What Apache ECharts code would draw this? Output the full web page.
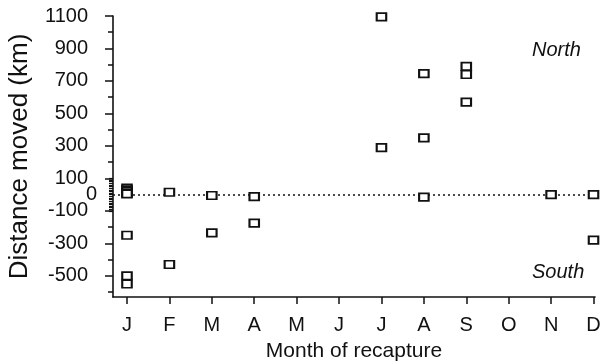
<!DOCTYPE html>
<html>
<head>
<meta charset="utf-8">
<script src="https://cdn.jsdelivr.net/npm/echarts@6/dist/echarts.min.js"></script>
<style>html,body{margin:0;padding:0;background:#fff;}#chart{width:602px;height:362px;}</style>
</head>
<body>
<div id="chart"></div>
<script>
// Month of recapture (1 = J ... 12 = D)
var monthLetters = ['J','F','M','A','M','J','J','A','S','O','N','D'];
var monthTicks = [1,2,3,4,5,6,7,8,9,10,11,12];
// Recaptures: month and distance moved (km)
var recapMonth  = [1, 1, 1, 1, 1, 1, 1, 1,   2, 2,    3, 3,    4, 4,    7, 7,   8, 8, 8,   9, 9, 9,   11,  12, 12];
var distanceKm  = [40, 30, 20, 10, 5, -250, -500, -550,  15, -430,  -5, -235,  -12, -175,  1095, 290,  745, 350, -15,  790, 740, 570,  0,  0, -280];
// Axis tick values
var yLabelTicks = [-500, -300, -100, 100, 300, 500, 700, 900, 1100];
var yMinorTicks = [-600, -400, -200, 200, 400, 600, 800, 1000];
var yFineTicks = [];
for (var t = -100; t <= 100; t += 10) yFineTicks.push(t);

var points = recapMonth.map(function (m, i) { return [m, distanceKm[i]]; });

var FONT = 'Liberation Sans, Arial, sans-serif';
var INK = '#111';
var Y_MIN = -630, Y_MAX = 1100;

function baseY(extra) {
  var o = {
    type: 'value', position: 'left', min: Y_MIN, max: Y_MAX, offset: 0,
    splitLine: { show: false },
    axisLine: { show: false },
    axisTick: { show: false },
    axisLabel: { show: false }
  };
  for (var k in extra) o[k] = extra[k];
  return o;
}

var chart = echarts.init(document.getElementById('chart'), null, { renderer: 'canvas' });
chart.setOption({
  animation: false,
  backgroundColor: '#fff',
  grid: { left: 113, right: 7, top: 16, bottom: 65, containLabel: false, outerBoundsMode: 'none' },
  xAxis: {
    type: 'value', min: 0.67, max: 12.035,
    splitLine: { show: false },
    axisLine: { show: true, onZero: false, lineStyle: { color: INK, width: 1.6 } },
    axisTick: { show: true, customValues: monthTicks, length: 7, inside: false, lineStyle: { color: INK, width: 1.5 } },
    axisLabel: {
      show: true, customValues: monthTicks, margin: 18,
      fontFamily: FONT, fontSize: 20, color: INK,
      formatter: function (v) { return monthLetters[Math.round(v) - 1]; }
    },
    name: 'Month of recapture', nameLocation: 'middle', nameGap: 44,
    nameTextStyle: { fontFamily: FONT, fontSize: 21, color: INK }
  },
  yAxis: [
    baseY({
      axisLine: { show: true, onZero: false, lineStyle: { color: INK, width: 1.6 } },
      axisTick: { show: true, customValues: yLabelTicks, length: 8, lineStyle: { color: INK, width: 1.5 } },
      axisLabel: { show: true, customValues: yLabelTicks, margin: 25, fontFamily: FONT, fontSize: 20, color: INK,
        formatter: function (v) { return String(v); } },
      name: 'Distance moved (km)', nameLocation: 'middle', nameRotate: 90, nameGap: 80,
      nameTextStyle: { fontFamily: FONT, fontSize: 26, color: INK }
    }),
    baseY({
      axisTick: { show: true, customValues: yMinorTicks, length: 5, lineStyle: { color: INK, width: 1.5 } }
    }),
    baseY({
      axisTick: { show: true, customValues: yFineTicks, length: 4, lineStyle: { color: INK, width: 1.2 } }
    }),
    baseY({
      axisLabel: { show: true, customValues: [0], margin: 16, fontFamily: FONT, fontSize: 20, color: INK,
        padding: [10, 0, 0, 0],
        formatter: function (v) { return String(v); } }
    })
  ],
  graphic: [
    { type: 'text', left: 532, top: 40, style: { text: 'North', fontFamily: FONT, fontSize: 20, fontStyle: 'italic', fill: INK } },
    { type: 'text', left: 532, top: 262, style: { text: 'South', fontFamily: FONT, fontSize: 20, fontStyle: 'italic', fill: INK } }
  ],
  series: [{
    type: 'scatter',
    yAxisIndex: 0,
    data: points,
    symbol: 'rect',
    symbolSize: [9.5, 7.5],
    itemStyle: { color: '#fff', borderColor: INK, borderWidth: 1.9, opacity: 1 },
    z: 3,
    markLine: {
      silent: true, symbol: 'none', label: { show: false },
      lineStyle: { color: INK, width: 1.6, type: [2, 3] },
      data: [{ yAxis: 0 }],
      z: 2
    }
  }]
});
</script>
</body>
</html>
